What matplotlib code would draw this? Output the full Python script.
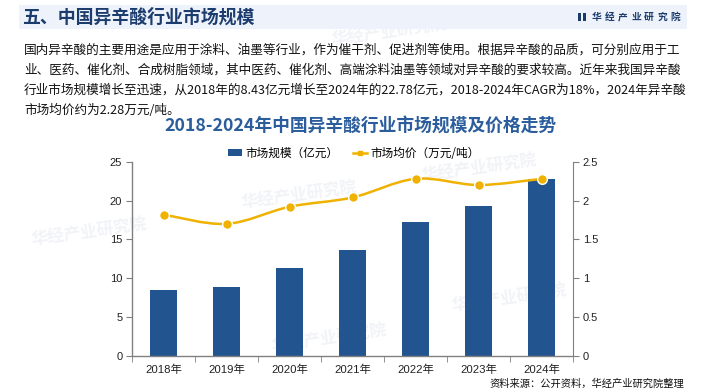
import matplotlib
matplotlib.use("Agg")
import matplotlib.pyplot as plt
from matplotlib.path import Path
from matplotlib.patches import PathPatch, Rectangle
from matplotlib.lines import Line2D
from matplotlib.patches import Patch
import numpy as np

plt.rcParams['font.family'] = ['Noto Sans CJK SC', 'DejaVu Sans']

# ---------------- data ----------------
years = ['2018年', '2019年', '2020年', '2021年', '2022年', '2023年', '2024年']
market_size = [8.43, 8.9, 11.3, 13.6, 17.2, 19.3, 22.78]      # 亿元
avg_price = [1.82, 1.70, 1.92, 2.04, 2.28, 2.20, 2.28]         # 万元/吨
left_ticks = [0, 5, 10, 15, 20, 25]
right_ticks = [0, 0.5, 1, 1.5, 2, 2.5]
right_tick_labels = ['0', '0.5', '1', '1.5', '2', '2.5']

header_title = '五、中国异辛酸行业市场规模'
brand = '华经产业研究院'
paragraph = [
    '国内异辛酸的主要用途是应用于涂料、油墨等行业，作为催干剂、促进剂等使用。根据异辛酸的品质，可分别应用于工',
    '业、医药、催化剂、合成树脂领域，其中医药、催化剂、高端涂料油墨等领域对异辛酸的要求较高。近年来我国异辛酸',
    '行业市场规模增长至迅速，从2018年的8.43亿元增长至2024年的22.78亿元，2018-2024年CAGR为18%，2024年异辛酸',
    '市场均价约为2.28万元/吨。',
]
chart_title = '2018-2024年中国异辛酸行业市场规模及价格走势'
legend_labels = ['市场规模（亿元）', '市场均价（万元/吨）']
source = '资料来源：公开资料，华经产业研究院整理'

# ---------------- style ----------------
W, H = 705, 392
BAR = '#22548f'
GOLD = '#efb200'
NAVY = '#1c3c6e'
TBLUE = '#2b5d9c'
GREY = '#808080'
NUMFONT = ['Liberation Sans', 'Noto Sans CJK SC']

fig = plt.figure(figsize=(W / 100, H / 100), dpi=100)
fig.patch.set_facecolor('white')

def fx(x):
    return x / W

def fy(y):
    return 1 - y / H

# watermarks (faint, behind everything)
wm_pos = [(240, 195), (420, 168), (30, 232), (270, 338), (450, 298), (330, 32)]
for (x, y) in wm_pos:
    fig.text(fx(x), fy(y), brand, fontsize=12, color='#f1f3f7', fontweight='bold',
             rotation=8, ha='left', va='center', zorder=-5)

# header band
fig.patches.append(Rectangle((fx(19), fy(29)), fx(687) - fx(19), fy(5) - fy(29),
                             transform=fig.transFigure, facecolor='#eef3fb',
                             edgecolor='none', zorder=1))
fig.text(fx(22), fy(17.5), header_title, fontsize=12.9, fontweight='bold', color=NAVY,
         ha='left', va='center', zorder=3)
# brand logo
fig.patches.append(Rectangle((fx(578), fy(21)), fx(2.5), fy(13) - fy(21),
                             transform=fig.transFigure, facecolor=NAVY, edgecolor='none', zorder=3))
fig.patches.append(Rectangle((fx(583), fy(21)), fx(2.5), fy(13) - fy(21),
                             transform=fig.transFigure, facecolor=NAVY, edgecolor='none', zorder=3))
for i, ch in enumerate(brand):
    fig.text(fx(597 + i * 13.0), fy(17), ch, fontsize=7, fontweight='bold', color=NAVY,
             ha='center', va='center', zorder=3)

# paragraph
for i, line in enumerate(paragraph):
    fig.text(fx(24), fy(50 + i * 20.2), line, fontsize=9.1, color='#111111',
             ha='left', va='center', zorder=3)

# chart title
fig.text(fx(360), fy(126), chart_title, fontsize=12.8, fontweight='bold', color=TBLUE,
         ha='center', va='center', zorder=3)

# axes
ax = fig.add_axes([fx(132), fy(356), fx(573) - fx(132), fy(161.7) - fy(356)])
ax.patch.set_alpha(0)
x = np.arange(len(years))
ax.bar(x, market_size, width=0.44, color=BAR, zorder=2)
ax.set_xlim(-0.5, len(years) - 0.5)
ax.set_ylim(0, 25)
ax.set_yticks(left_ticks)
ax.set_yticklabels([str(t) for t in left_ticks], fontsize=8, family=NUMFONT, color='#222222')
ax.set_xticks(x)
ax.set_xticklabels(years, fontsize=8.2, family=NUMFONT, color='#222222')
ax.tick_params(axis='x', length=0, pad=6)
ax.set_xticks(np.arange(-0.5, len(years)), minor=True)
ax.tick_params(axis='x', which='minor', length=4, color=GREY, direction='out')
ax.tick_params(axis='y', length=4, color=GREY, pad=3)
for s in ['top', 'right']:
    ax.spines[s].set_visible(False)
for s in ['left', 'bottom']:
    ax.spines[s].set_color(GREY)
    ax.spines[s].set_linewidth(1)

ax2 = ax.twinx()
ax2.set_ylim(0, 2.5)
ax2.set_yticks(right_ticks)
ax2.set_yticklabels(right_tick_labels, fontsize=8, family=NUMFONT, color='#222222')
ax2.tick_params(axis='y', length=4, color=GREY, pad=3)
for s in ['top', 'left', 'bottom']:
    ax2.spines[s].set_visible(False)
ax2.spines['right'].set_color(GREY)

# smooth line (Catmull-Rom -> cubic Bezier in data coords)
P = np.column_stack([x, avg_price]).astype(float)
n = len(P)
verts = [tuple(P[0])]
codes = [Path.MOVETO]
t = 0.5
for i in range(n - 1):
    p0 = P[i - 1] if i > 0 else P[i]
    p1 = P[i]
    p2 = P[i + 1]
    p3 = P[i + 2] if i + 2 < n else P[i + 1]
    c1 = p1 + (p2 - p0) * t / 3
    c2 = p2 - (p3 - p1) * t / 3
    verts += [tuple(c1), tuple(c2), tuple(p2)]
    codes += [Path.CURVE4] * 3
ax2.add_patch(PathPatch(Path(verts, codes), facecolor='none', edgecolor=GOLD, lw=1.8, zorder=3))
ax2.plot(x, avg_price, linestyle='none', marker='o', markersize=7, markerfacecolor=GOLD,
         markeredgecolor='white', markeredgewidth=1, zorder=4)

# legend
handles = [Patch(facecolor=BAR, edgecolor='none'),
           Line2D([0], [0], color=GOLD, lw=1.8, marker='s', markersize=3.5,
                  markerfacecolor=GOLD, markeredgecolor=GOLD)]
fig.legend(handles, legend_labels, loc='center', bbox_to_anchor=(fx(354), fy(153)),
           ncol=2, frameon=False, fontsize=8.4, handlelength=1.2, handleheight=0.6,
           handletextpad=0.3, columnspacing=1.2, borderaxespad=0)

# source
fig.text(fx(684), fy(384), source, fontsize=7.4, color='#111111', ha='right', va='center')

fig.savefig('out.png', dpi=100)
